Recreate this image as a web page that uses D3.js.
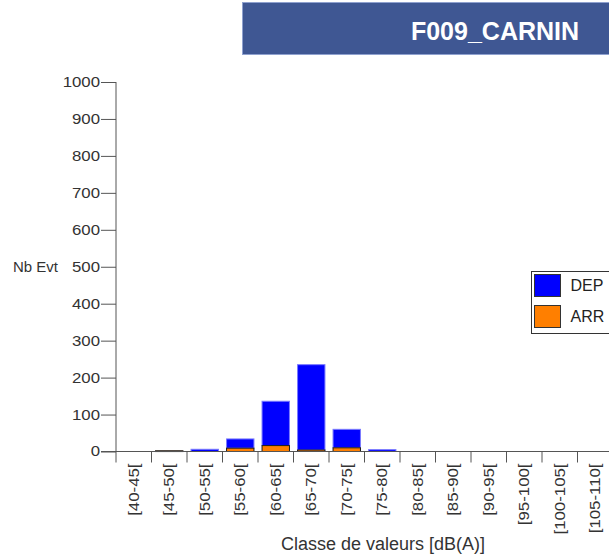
<!DOCTYPE html>
<html>
<head>
<meta charset="utf-8">
<script src="https://cdn.jsdelivr.net/npm/d3@7"></script>
<style>
  html, body { margin: 0; padding: 0; background: #ffffff; }
  svg { display: block; font-family: "Liberation Sans", Arial, sans-serif; }
</style>
</head>
<body>
<svg id="chart" width="609" height="558"></svg>
<script>
const title = "F009_CARNIN";
const categories = ["[40-45[", "[45-50[", "[50-55[", "[55-60[", "[60-65[", "[65-70[", "[70-75[",
  "[75-80[", "[80-85[", "[85-90[", "[90-95[", "[95-100[", "[100-105[", "[105-110["];
const arrValues = [0, 2, 0, 9, 16, 4, 10, 0, 0, 0, 0, 0, 0, 0];
const depValues = [0, 0, 6, 25, 120, 231, 50, 5, 0, 0, 0, 0, 0, 0];
const yTicks = [0, 100, 200, 300, 400, 500, 600, 700, 800, 900, 1000];
const seriesNames = ["DEP", "ARR"];
const seriesColors = {DEP: "#0000ff", ARR: "#ff7f00"};
const seriesStrokes = {DEP: "#7a7aff", ARR: "#1a1a1a"};
const yLabel = "Nb Evt";
const xLabel = "Classe de valeurs [dB(A)]";

const svg = d3.select("#chart");
const axisColor = "#555555";
const textColor = "#333333";

// title banner
svg.append("rect").attr("x", 242.5).attr("y", 2.5).attr("width", 380).attr("height", 52)
  .attr("fill", "#3f5793").attr("stroke", "#8fa1cf").attr("stroke-width", 1);
svg.append("text").attr("x", 495).attr("y", 39.5).attr("text-anchor", "middle")
  .attr("fill", "#ffffff").attr("font-weight", "bold").attr("font-size", 25).text(title);

// scales
const x = d3.scaleBand().domain(categories).range([116, 116 + 14 * 35.5])
  .paddingInner(0.2).paddingOuter(0.1);
const y = d3.scaleLinear().domain([0, 1000]).range([451.5, 82]);

// stacked data
const rows = categories.map((c, i) => ({cat: c, ARR: arrValues[i], DEP: depValues[i]}));
const stack = d3.stack().keys(["ARR", "DEP"])(rows);

// bars (DEP drawn first so the ARR outline stays visible)
[stack[1], stack[0]].forEach(layer => {
  svg.append("g").selectAll("rect").data(layer.filter(d => d[1] - d[0] > 0)).join("rect")
    .attr("x", d => x(d.data.cat) + 0.5)
    .attr("width", x.bandwidth() - 1)
    .attr("y", d => y(d[1]))
    .attr("height", d => Math.max(0.8, y(d[0]) - y(d[1])))
    .attr("fill", seriesColors[layer.key])
    .attr("stroke", seriesStrokes[layer.key])
    .attr("stroke-width", 1);
});

// y axis
const yAxis = svg.append("g").attr("transform", "translate(116,0)")
  .call(d3.axisLeft(y).tickValues(yTicks).tickFormat(d3.format("d"))
    .tickSize(15).tickSizeOuter(0).tickPadding(1));
yAxis.select(".domain").remove();
yAxis.selectAll(".tick line").attr("stroke", axisColor);
yAxis.selectAll(".tick text").attr("fill", textColor).attr("font-size", 14)
  .attr("font-family", "Liberation Sans, Arial, sans-serif")
  .each(function() {
    const w = this.getComputedTextLength();
    d3.select(this).attr("textLength", w * 1.2).attr("lengthAdjust", "spacingAndGlyphs");
  });
svg.append("line").attr("x1", 116).attr("x2", 116).attr("y1", y(1000)).attr("y2", y(0))
  .attr("stroke", axisColor);

// x axis baseline and boundary ticks
svg.append("line").attr("x1", 101).attr("x2", 609).attr("y1", y(0)).attr("y2", y(0))
  .attr("stroke", axisColor);
const half = x.step() * x.paddingInner() / 2;
svg.append("g").selectAll("line").data(categories).join("line")
  .attr("x1", d => x(d) - half).attr("x2", d => x(d) - half)
  .attr("y1", y(0)).attr("y2", y(0) + 11)
  .attr("stroke", axisColor);

// x tick labels
const xAxis = svg.append("g").attr("transform", `translate(0,${y(0)})`)
  .call(d3.axisBottom(x).tickSize(0).tickPadding(0));
xAxis.select(".domain").remove();
xAxis.selectAll(".tick text")
  .attr("fill", textColor).attr("font-size", 14)
  .attr("font-family", "Liberation Sans, Arial, sans-serif")
  .attr("text-anchor", "end")
  .attr("transform", "translate(0,12) rotate(-90)")
  .attr("x", 0).attr("y", 0).attr("dy", "0.36em")
  .each(function() {
    const w = this.getComputedTextLength();
    d3.select(this).attr("textLength", w * 1.2).attr("lengthAdjust", "spacingAndGlyphs");
  });

// axis titles
svg.append("text").attr("x", 13).attr("y", y(500) + 5).attr("font-size", 15)
  .attr("fill", textColor).text(yLabel);
svg.append("text").attr("x", 383).attr("y", 550).attr("text-anchor", "middle")
  .attr("font-size", 18).attr("fill", textColor).text(xLabel);

// legend
svg.append("rect").attr("x", 531.5).attr("y", 271.5).attr("width", 100).attr("height", 62)
  .attr("fill", "#ffffff").attr("stroke", "#333333");
const leg = svg.append("g").selectAll("g").data(seriesNames).join("g")
  .attr("transform", (d, i) => `translate(534.5,${274.5 + i * 31})`);
leg.append("rect").attr("width", 26).attr("height", 22)
  .attr("fill", d => seriesColors[d]).attr("stroke", "#333333");
leg.append("text").attr("x", 36).attr("y", 16.5).attr("font-size", 16)
  .attr("fill", "#222222").text(d => d);
</script>
</body>
</html>
